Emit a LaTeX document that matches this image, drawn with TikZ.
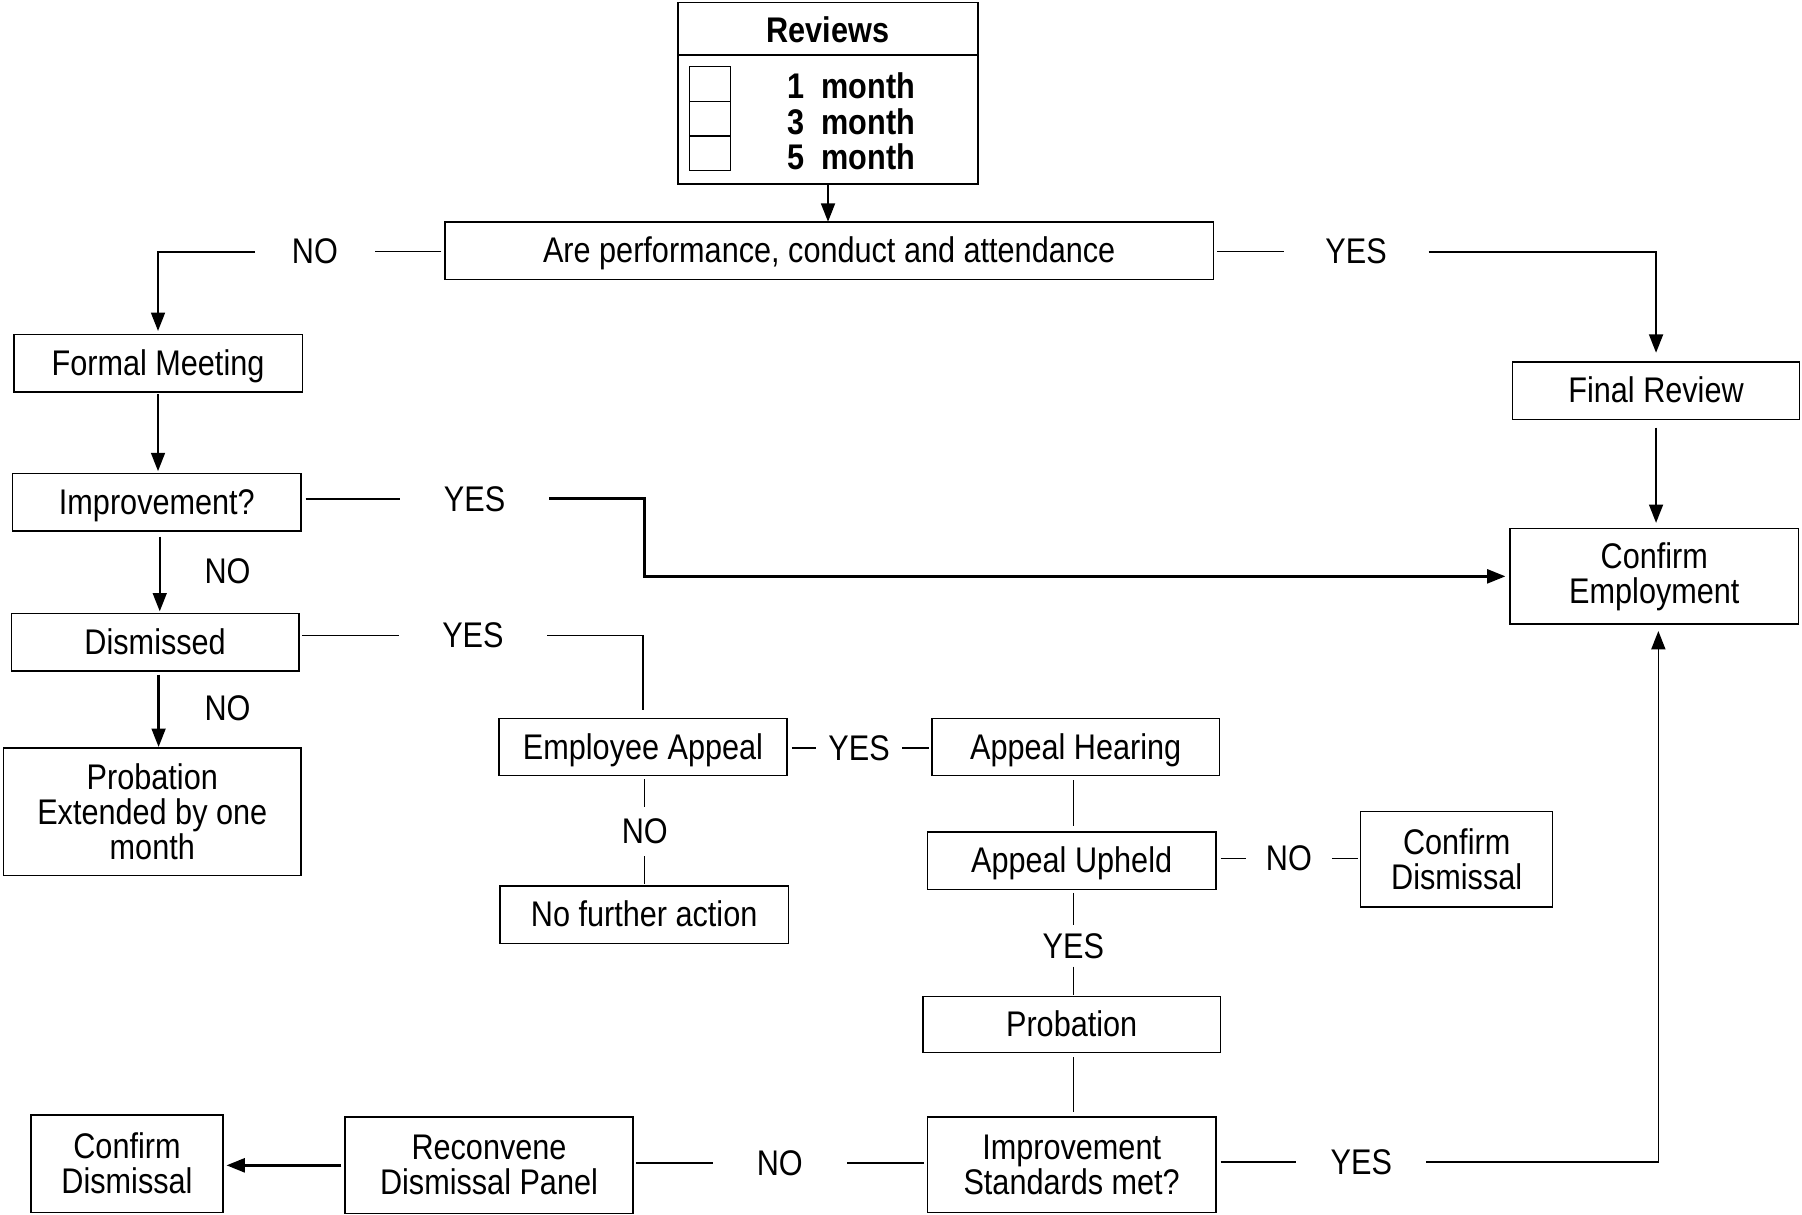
\documentclass[tikz,border=0pt]{standalone}
\usepackage{fontspec}
\setmainfont{Liberation Sans}[FakeStretch=0.86]
\usetikzlibrary{arrows.meta}
\begin{document}
\begin{tikzpicture}[x=1pt,y=-1pt,
  every node/.style={font=\fontsize{31}{30.5}\selectfont},
  box/.style={draw, line width=1.3pt, inner sep=0pt, outer sep=0pt, align=center},
  one/.style={text height=22pt, text depth=1pt},
  lbl/.style={inner sep=0pt, outer sep=0pt, minimum height=30pt},
  conn/.style={line width=1.3pt},
  tip/.style={-{Triangle[length=16pt,width=12pt]}},
  arr/.style={line width=2pt, tip},
  sq/.style={draw, line width=1pt, minimum width=36pt, minimum height=30pt, inner sep=0pt}]
\useasboundingbox (0,0) rectangle (1568,1057);
% Reviews box
\node[box, minimum width=261pt, minimum height=158pt] (rev) at (720.5,81) {};
\draw[line width=1.3pt] (590,48) -- (851,48);
\node[font=\fontsize{31}{30.5}\selectfont\bfseries] (revt) at (720.5,26) {Reviews};
\node[sq] (s1) at (618,73) {};
\node[sq] (s2) at (618,103) {};
\node[sq] (s3) at (618,133.5) {};
\node[anchor=west, inner sep=0pt, font=\fontsize{31}{30.5}\selectfont\bfseries] (r1) at (685,75) {1\hspace{15pt}month};
\node[anchor=west, inner sep=0pt, font=\fontsize{31}{30.5}\selectfont\bfseries] (r2) at (685,106) {3\hspace{15pt}month};
\node[anchor=west, inner sep=0pt, font=\fontsize{31}{30.5}\selectfont\bfseries] (r3) at (685,136) {5\hspace{15pt}month};
% boxes
\node[box, one, minimum width=669pt, minimum height=50pt] (are) at (721.5,218) {Are performance, conduct and attendance};
\node[box, one, minimum width=251pt, minimum height=50pt] (fm) at (137.5,316) {Formal Meeting};
\node[box, one, minimum width=251pt, minimum height=50pt] (imp) at (136.5,437) {Improvement?};
\node[box, one, minimum width=250pt, minimum height=50pt] (dis) at (135,559) {Dismissed};
\node[box, minimum width=259pt, minimum height=111pt] (pe) at (132.5,706.5) {Probation\\Extended by one\\month};
\node[box, one, minimum width=251pt, minimum height=50pt] (ea) at (559.5,650) {Employee Appeal};
\node[box, one, minimum width=250pt, minimum height=50pt] (ah) at (936,650) {Appeal Hearing};
\node[box, one, minimum width=251pt, minimum height=50pt] (nfa) at (560.5,796) {No further action};
\node[box, one, minimum width=251pt, minimum height=50pt] (au) at (932.5,749) {Appeal Upheld};
\node[box, minimum width=167pt, minimum height=83pt] (cd1) at (1267.5,747.5) {Confirm\\Dismissal};
\node[box, one, minimum width=259pt, minimum height=49pt] (prob) at (932.5,891.5) {Probation};
\node[box, minimum width=251pt, minimum height=83pt] (ism) at (932.5,1013.5) {Improvement\\Standards met?};
\node[box, minimum width=251pt, minimum height=84pt] (rdp) at (425.5,1014) {Reconvene\\Dismissal Panel};
\node[box, minimum width=167pt, minimum height=85pt] (cd2) at (110.5,1012.5) {Confirm\\Dismissal};
\node[box, one, minimum width=250pt, minimum height=50pt] (fr) at (1441,340) {Final Review};
\node[box, minimum width=251pt, minimum height=83pt] (ce) at (1439.5,501.5) {Confirm\\Employment};
% labels
\node[lbl, minimum width=104pt] (noA) at (274,219) {NO};
\node[lbl, minimum width=126pt] (yesA) at (1180,219) {YES};
\node[lbl, minimum width=130pt] (yesB) at (413,434) {YES};
\node[lbl] (noB) at (198,497) {NO};
\node[lbl, minimum width=129pt] (yesC) at (411.5,553) {YES};
\node[lbl] (noC) at (198,616) {NO};
\node[lbl, minimum width=75pt] (yesD) at (747.5,651) {YES};
\node[lbl, minimum height=43pt] (noD) at (561,723.5) {NO};
\node[lbl, minimum width=75pt] (noE) at (1121.5,747) {NO};
\node[lbl, minimum height=36pt] (yesF) at (934,823) {YES};
\node[lbl, minimum width=113pt] (yesG) at (1184.5,1011) {YES};
\node[lbl, minimum width=117pt] (noG) at (678.5,1012) {NO};
% connectors
\draw[arr, shorten <=1pt] (rev.south) -- (rev.south |- are.north);
\draw[conn, shorten <=3pt] (are.west |- noA.east) -- (noA.east);
\draw[arr, shorten >=3pt] (noA.west) -| (fm.north);
\draw[conn, shorten <=3pt] (are.east |- yesA.west) -- (yesA.west);
\draw[arr, shorten >=8pt] (yesA.east) -| (fr.north);
\draw[arr, shorten <=7pt, shorten >=5pt] (fr.south) -- (fr.south |- ce.north);
\draw[arr, shorten <=2pt, shorten >=2pt] (fm.south) -- (fm.south |- imp.north);
\draw[conn, shorten <=4pt] (imp.east |- yesB.west) -- (yesB.west);
\coordinate (kB) at (561,434);
\draw[line width=2.6pt, tip, shorten >=4pt] (yesB.east) -- (kB) |- (ce.west);
\draw[arr, shorten <=5pt, shorten >=2pt] (imp.south) ++(2.5,0) coordinate (iS) -- (iS |- dis.north);
\draw[conn, shorten <=3pt] (dis.east |- yesC.west) -- (yesC.west);
\draw[conn, shorten >=7pt] (yesC.east) -| (ea.north);
\draw[arr, shorten <=3pt, shorten >=1pt] (dis.south) ++(3,0) coordinate (dS) -- (dS |- pe.north);
\draw[conn, shorten <=4pt] (ea.east |- yesD.west) -- (yesD.west);
\draw[conn, shorten >=3pt] (yesD.east) -- (ah.west |- yesD.east);
\draw[conn, shorten <=3pt] (ea.south -| noD.north) -- (noD.north);
\draw[conn, shorten >=2pt] (noD.south) -- (noD.south |- nfa.north);
\coordinate (ahS) at (934,675);
\draw[conn, shorten <=4pt, shorten >=5pt] (ahS) -- (ahS |- au.north);
\draw[conn, shorten <=4pt] (au.east |- noE.west) -- (noE.west);
\draw[conn, shorten >=2pt] (noE.east) -- (cd1.west |- noE.east);
\draw[conn, shorten <=3pt] (au.south -| yesF.north) -- (yesF.north);
\draw[conn, shorten >=1pt] (yesF.south) -- (yesF.south |- prob.north);
\draw[conn, shorten <=4pt, shorten >=4pt] (prob.south -| ahS) -- (ism.north -| ahS);
\draw[conn, shorten <=4pt] (ism.east |- yesG.west) -- (yesG.west);
\coordinate (ceS) at (1443,543);
\draw[conn] (yesG.east) -| (1443,560);
\draw[arr, shorten >=6pt] (1443,561) -- (ceS);
\draw[conn, shorten <=3pt] (ism.west |- noG.east) -- (noG.east);
\draw[conn, shorten >=2pt] (noG.west) -- (rdp.east |- noG.west);
\draw[line width=2.6pt, tip, shorten <=3pt, shorten >=3pt] (rdp.west) -- (cd2.east |- rdp.west);
\end{tikzpicture}
\end{document}
